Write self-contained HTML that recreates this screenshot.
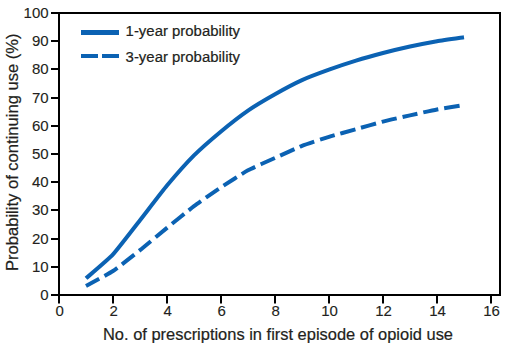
<!DOCTYPE html>
<html><head><meta charset="utf-8"><style>
html,body{margin:0;padding:0;background:#fff;}
svg{display:block;}
text{font-family:"Liberation Sans", sans-serif;fill:#231f20;stroke:#231f20;}
.t{font-size:15.0px;stroke-width:0.12px;}
.l{font-size:15.2px;stroke-width:0.2px;}
.m{font-size:16px;stroke-width:0.2px;}
.n{font-size:16px;stroke-width:0.2px;}
</style></head><body>
<svg width="506" height="348" viewBox="0 0 506 348">
<path d="M59,13 H500 V295 H59 Z" fill="none" stroke="#000" stroke-width="2"/>
<path d="M51,295 H59 M51,267 H59 M51,239 H59 M51,210 H59 M51,182 H59 M51,154 H59 M51,126 H59 M51,98 H59 M51,69 H59 M51,41 H59 M51,13 H59 M59.00,295 V303.5 M113.00,295 V303.5 M167.00,295 V303.5 M221.00,295 V303.5 M275.00,295 V303.5 M329.00,295 V303.5 M383.00,295 V303.5 M437.00,295 V303.5 M491.00,295 V303.5" stroke="#000" stroke-width="2" fill="none"/>
<text id="y0" x="48.6" y="299.90" text-anchor="end" class="t">0</text>
<text id="y10" x="48.6" y="271.70" text-anchor="end" class="t">10</text>
<text id="y20" x="48.6" y="243.50" text-anchor="end" class="t">20</text>
<text id="y30" x="48.6" y="215.30" text-anchor="end" class="t">30</text>
<text id="y40" x="48.6" y="187.10" text-anchor="end" class="t">40</text>
<text id="y50" x="48.6" y="158.90" text-anchor="end" class="t">50</text>
<text id="y60" x="48.6" y="130.70" text-anchor="end" class="t">60</text>
<text id="y70" x="48.6" y="102.50" text-anchor="end" class="t">70</text>
<text id="y80" x="48.6" y="74.30" text-anchor="end" class="t">80</text>
<text id="y90" x="48.6" y="46.10" text-anchor="end" class="t">90</text>
<text id="y100" x="48.6" y="17.90" text-anchor="end" class="t">100</text>
<text id="x0" x="59.60" y="315.6" text-anchor="middle" class="t">0</text>
<text id="x2" x="113.60" y="315.6" text-anchor="middle" class="t">2</text>
<text id="x4" x="167.60" y="315.6" text-anchor="middle" class="t">4</text>
<text id="x6" x="221.60" y="315.6" text-anchor="middle" class="t">6</text>
<text id="x8" x="275.60" y="315.6" text-anchor="middle" class="t">8</text>
<text id="x10" x="329.60" y="315.6" text-anchor="middle" class="t">10</text>
<text id="x12" x="383.60" y="315.6" text-anchor="middle" class="t">12</text>
<text id="x14" x="437.60" y="315.6" text-anchor="middle" class="t">14</text>
<text id="x16" x="491.60" y="315.6" text-anchor="middle" class="t">16</text>
<path d="M86.00,278.36 C88.25,276.36 108.50,259.23 113.00,254.39 C117.50,249.55 135.50,226.00 140.00,220.27 C144.50,214.54 162.50,190.99 167.00,185.58 C171.50,180.18 189.50,159.92 194.00,155.41 C198.50,150.90 216.50,135.18 221.00,131.44 C225.50,127.70 243.50,113.67 248.00,110.57 C252.50,107.47 270.50,96.75 275.00,94.22 C279.50,91.68 297.50,82.16 302.00,80.12 C306.50,78.07 324.50,71.30 329.00,69.68 C333.50,68.06 351.50,62.04 356.00,60.66 C360.50,59.27 378.50,54.22 383.00,53.04 C387.50,51.87 405.50,47.55 410.00,46.56 C414.50,45.57 432.50,41.98 437.00,41.20 C441.50,40.42 461.75,37.58 464.00,37.25" fill="none" stroke="#0b62b3" stroke-width="4" stroke-linejoin="round"/>
<path d="M86.00,285.98 C88.25,284.73 108.50,274.01 113.00,271.03 C117.50,268.05 135.50,253.76 140.00,250.16 C144.50,246.57 162.50,231.55 167.00,227.88 C171.50,224.22 189.50,209.55 194.00,206.17 C198.50,202.79 216.50,190.26 221.00,187.28 C225.50,184.29 243.50,172.80 248.00,170.36 C252.50,167.91 270.50,159.99 275.00,157.95 C279.50,155.90 297.50,147.58 302.00,145.82 C306.50,144.06 324.50,138.18 329.00,136.80 C333.50,135.41 351.50,130.45 356.00,129.18 C360.50,127.92 378.50,122.72 383.00,121.57 C387.50,120.42 405.50,116.38 410.00,115.37 C414.50,114.36 432.50,110.31 437.00,109.44 C441.50,108.57 461.75,105.31 464.00,104.93" fill="none" stroke="#0b62b3" stroke-width="4" stroke-dasharray="15.5 5.9" stroke-dashoffset="0.5" stroke-linejoin="round"/>
<rect x="81" y="30" width="38" height="5" fill="#0b62b3"/>
<rect x="81" y="54" width="17" height="4" fill="#0b62b3"/>
<rect x="102" y="54" width="17" height="4" fill="#0b62b3"/>
<text id="leg1" x="125.6" y="35.7" class="l" textLength="114.5" lengthAdjust="spacingAndGlyphs">1-year probability</text>
<text id="leg2" x="125.6" y="61.8" class="l" textLength="114.5" lengthAdjust="spacingAndGlyphs">3-year probability</text>
<text id="tit" x="103" y="339.6" class="m" textLength="350" lengthAdjust="spacingAndGlyphs">No. of prescriptions in first episode of opioid use</text>
<text id="yt" transform="translate(18.2,271) rotate(-90)" x="0" y="0" class="n" textLength="237.5" lengthAdjust="spacingAndGlyphs">Probability of continuing use (%)</text>
</svg>
</body></html>
